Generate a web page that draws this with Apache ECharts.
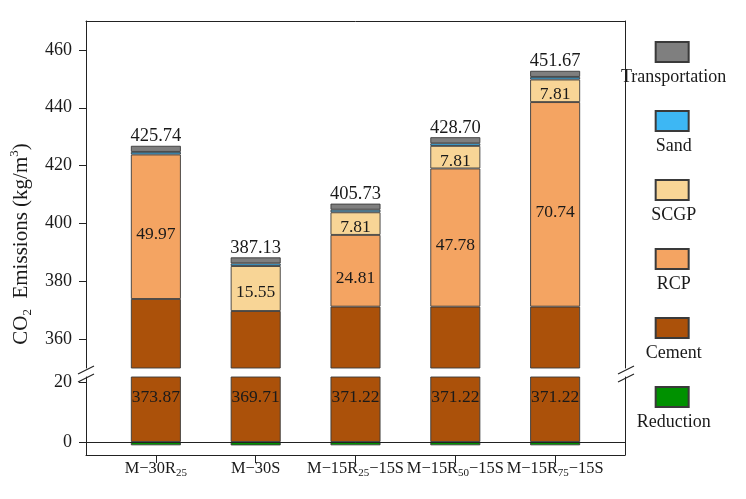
<!DOCTYPE html>
<html><head><meta charset="utf-8">
<script src="https://cdn.jsdelivr.net/npm/echarts@6/dist/echarts.min.js"></script>
<style>html,body{margin:0;padding:0;background:#fff}#c{width:746px;height:499px}</style>
</head><body><div id="c"></div>
<script>
// ---- data ----
const categories = [['M−30R','25',''],['M−30S','',''],['M−15R','25','−15S'],['M−15R','50','−15S'],['M−15R','75','−15S']];
const transportation = [2.1, 2.1, 2.1, 2.1, 2.1];
const sand = [0.9, 0.9, 0.9, 0.9, 0.9];
const scgp = [0, 15.55, 7.81, 7.81, 7.81];
const rcp = [49.97, 0, 24.81, 47.78, 70.74];
const cement = [373.87, 369.71, 371.22, 371.22, 371.22];
const reduction = [-1.1, -1.13, -1.1, -1.1, -1.1];
const totals = ['425.74','387.13','405.73','428.70','451.67'];
const upperTicks = [360, 380, 400, 420, 440, 460];
const lowerTicks = [0, 20];
const legendNames = ['Transportation','Sand','SCGP','RCP','Cement','Reduction'];

const FONT = '"Liberation Serif", "Times New Roman", serif';
const TXT = '#1a1a1a';
const LINE = '#222';
const colors = {Transportation:'#7f7f7f', Sand:'#3db7f4', SCGP:'#f8d596', RCP:'#f4a462', Cement:'#ab510a', Reduction:'#009100'};
const xIdx = categories.map((c,i)=>i);
// value first, category index second (stacking acts on the first dimension)
const toData = arr => arr.map((v,i)=>[v === 0 ? '-' : v, i]);

const chart = echarts.init(document.getElementById('c'), null, {renderer:'canvas'});

function bar(name, arr, grid, extra){
  return Object.assign({
    name: name, type:'bar', stack:'s'+grid, xAxisIndex: grid, yAxisIndex: grid===0?0:2,
    encode:{x:1, y:0},
    barWidth: 50, data: toData(arr),
    itemStyle:{color: colors[name], borderColor:'#3a3a3a', borderWidth:0.9},
    emphasis:{disabled:true}
  }, extra||{});
}
const innerLabel = (dy)=>({show:true, position:'inside', offset:[0,dy], fontFamily:FONT, fontSize:17.5, color:TXT,
  formatter:p=> (typeof p.value[0]==='number' && p.value[0]>0) ? p.value[0].toFixed(2) : ''});

const catLabel = v => {
  const c = categories[Math.round(v)];
  if(!c) return '';
  return '{a|'+c[0]+'}' + (c[1]?'{b|'+c[1]+'}':'') + (c[2]?'{a|'+c[2]+'}':'');
};

const option = {
  animation:false,
  backgroundColor:'#fff',
  grid:[
    {left:86, width:539, top:21, height:347},
    {left:86, width:539, top:377, height:78}
  ],
  xAxis:[
    {gridIndex:0, type:'value', min:-0.7, max:4.7, position:'top',
      axisLine:{show:true, onZero:false, lineStyle:{color:LINE, width:1}}, axisTick:{show:false}, axisLabel:{show:false}, splitLine:{show:false}},
    {gridIndex:1, type:'value', min:-0.7, max:4.7, position:'bottom',
      axisLine:{show:true, onZero:false, lineStyle:{color:LINE, width:1}},
      axisTick:{show:true, length:8, customValues:xIdx, lineStyle:{color:LINE}},
      axisLabel:{show:true, customValues:xIdx, margin:4, formatter:catLabel, color:TXT,
        showMinLabel:true, showMaxLabel:true, hideOverlap:false,
        rich:{a:{fontFamily:FONT, fontSize:16.4, color:TXT, lineHeight:20},
              b:{fontFamily:FONT, fontSize:11, color:TXT, verticalAlign:'bottom', lineHeight:11}}},
      splitLine:{show:false}}
  ],
  yAxis:[
    {gridIndex:0, type:'value', min:350, max:470, position:'left',
      axisLine:{show:true, onZero:false, lineStyle:{color:LINE, width:1}},
      axisTick:{show:true, length:7, customValues:upperTicks, lineStyle:{color:LINE}},
      axisLabel:{show:true, customValues:upperTicks, margin:14, fontFamily:FONT, fontSize:18, color:TXT},
      splitLine:{show:false},
      name:'{a|CO}{s|2}{a|  Emissions (kg/m}{p|3}{a|)}', nameLocation:'middle', nameGap:43,
      nameTextStyle:{fontFamily:FONT, fontSize:21, color:TXT, padding:[0,99,0,0],
        rich:{a:{fontFamily:FONT, fontSize:21, color:TXT, lineHeight:26},
              s:{fontFamily:FONT, fontSize:13, color:TXT, verticalAlign:'bottom', lineHeight:13},
              p:{fontFamily:FONT, fontSize:13, color:TXT, verticalAlign:'top', lineHeight:13}}}},
    {gridIndex:0, type:'value', min:350, max:470, position:'right',
      axisLine:{show:true, onZero:false, lineStyle:{color:LINE, width:1}}, axisTick:{show:false}, axisLabel:{show:false}, splitLine:{show:false}},
    {gridIndex:1, type:'value', min:-4.333, max:21.667, position:'left',
      axisLine:{show:true, onZero:false, lineStyle:{color:LINE, width:1}},
      axisTick:{show:true, length:7, customValues:lowerTicks, lineStyle:{color:LINE}},
      axisLabel:{show:true, customValues:lowerTicks, margin:14, fontFamily:FONT, fontSize:18, color:TXT},
      splitLine:{show:false}},
    {gridIndex:1, type:'value', min:-4.333, max:21.667, position:'right',
      axisLine:{show:true, onZero:false, lineStyle:{color:LINE, width:1}}, axisTick:{show:false}, axisLabel:{show:false}, splitLine:{show:false}}
  ],
  legend:{
    orient:'vertical', left:621, top:41, padding:0, itemWidth:33, itemHeight:20, itemGap:24,
    icon:'rect',
    data: legendNames, selectedMode:false,
    formatter: n => '{t|'+n+'}',
    textStyle:{fontFamily:FONT, fontSize:18, color:TXT, padding:[50,0,0,-75],
      rich:{t:{width:110, align:'center', fontFamily:FONT, fontSize:18, color:TXT}}}
  },
  series:[
    bar('Cement', cement, 0),
    bar('RCP', rcp, 0, {label: innerLabel(8)}),
    bar('SCGP', scgp, 0, {label: innerLabel(4)}),
    bar('Sand', sand, 0),
    bar('Transportation', transportation, 0, {label:{show:true, position:'top', distance:0, fontFamily:FONT, fontSize:18.5, color:TXT,
      formatter:p=>totals[p.dataIndex]}}),
    bar('Reduction', reduction, 1, {markLine:{silent:true, symbol:'none', label:{show:false},
      lineStyle:{color:LINE, width:1, type:'solid'}, data:[{yAxis:0}]}}),
    bar('Cement', cement, 1, {label:{show:true, position:'insideTop', distance:12, fontFamily:FONT, fontSize:17.5, color:TXT,
      formatter:p=>p.value[0].toFixed(2)}})
  ],
  graphic:[
    {type:'polyline', shape:{points:[[78,374],[94,366]]}, style:{stroke:LINE, lineWidth:1.2}, z:100},
    {type:'polyline', shape:{points:[[78,382],[94,374]]}, style:{stroke:LINE, lineWidth:1.2}, z:100},
    {type:'polyline', shape:{points:[[618,374],[634,366]]}, style:{stroke:LINE, lineWidth:1.2}, z:100},
    {type:'polyline', shape:{points:[[618,382],[634,374]]}, style:{stroke:LINE, lineWidth:1.2}, z:100}
  ]
};
chart.setOption(option);
</script></body></html>
